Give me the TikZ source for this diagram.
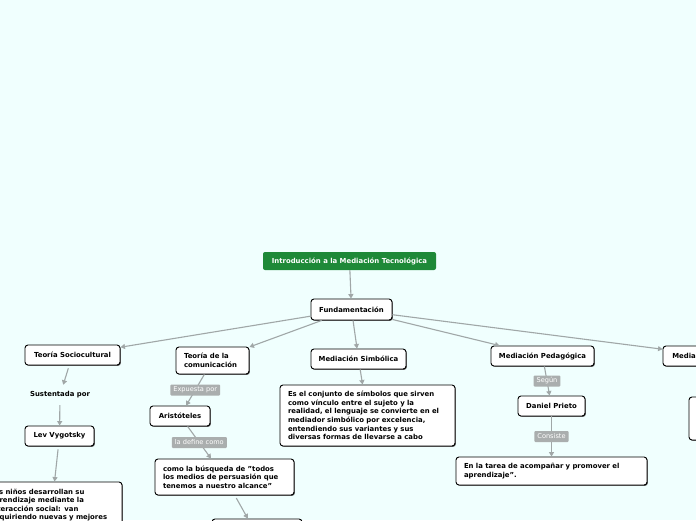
\documentclass[tikz,border=0pt]{standalone}
\usepackage{fontspec}
\setmainfont{DejaVu Sans}
\usetikzlibrary{arrows.meta,shadows}
\definecolor{bg}{RGB}{240,255,254}
\definecolor{titlegreen}{RGB}{30,137,56}
\definecolor{conn}{RGB}{160,167,167}
\definecolor{lblgray}{RGB}{170,174,174}
\tikzset{
  box/.style={draw=black, line width=0.9pt, fill=white, rounded corners=3pt,
    font=\fontsize{6.9}{8.6}\selectfont\bfseries, inner sep=0pt,
    drop shadow={shadow xshift=0.9pt, shadow yshift=-0.9pt, fill=black!65, opacity=1}},
  multibox/.style={box, align=left, inner xsep=8pt},
  titlebox/.style={fill=titlegreen, rounded corners=2pt, text=white,
    font=\fontsize{6.9}{8.6}\selectfont\bfseries, inner sep=0pt},
  plain/.style={font=\fontsize{6.9}{8.6}\selectfont\bfseries, inner sep=0pt, minimum height=20pt},
  lbl/.style={fill=lblgray, text=white, rounded corners=1pt,
    font=\fontsize{6.6}{7}\selectfont, inner xsep=3pt, inner ysep=0pt, minimum height=11pt},
  conn/.style={draw=conn, line width=1.1pt, -{Triangle[width=5pt,length=4.5pt]}},
}
\begin{document}
\begin{tikzpicture}[x=1pt,y=-1pt]
\useasboundingbox (0,0) rectangle (696,520);
\fill[bg] (0,0) rectangle (696,520);
\clip (0,0) rectangle (696,520);

\node[titlebox, minimum width=173pt, minimum height=18pt] (title) at (349.5,261) {Introducción a la Mediación Tecnológica};
\node[box, minimum width=81pt, minimum height=21pt] (fund) at (351.5,309.5) {Fundamentación};

\node[box, minimum width=95pt, minimum height=20pt] (tsc) at (72.5,355) {Teoría Sociocultural};
\node[multibox, text width=57pt, minimum height=27pt] (tcom) at (212.5,360.5) {Teoría de la\\comunicación};
\node[box, minimum width=95pt, minimum height=20pt] (msim) at (358.5,359) {Mediación Simbólica};
\node[box, minimum width=103pt, minimum height=20pt] (mped) at (542.5,356) {Mediación Pedagógica};
\node[box, minimum width=106pt, minimum height=20pt] (mtec) at (716,356) {Mediación Tecnológica};

\node[plain] (sust) at (60,395) {Sustentada por};
\node[box, minimum width=69pt, minimum height=20pt] (lev) at (59.5,436) {Lev Vygotsky};
\node[multibox, text width=124pt, minimum height=46pt] (lnin) at (52,505) {Los niños desarrollan su\\aprendizaje mediante la\\interacción social: van\\adquiriendo nuevas y mejores};

\node[box, minimum width=60pt, minimum height=20pt] (aris) at (180,416) {Aristóteles};
\node[multibox, text width=123pt, minimum height=36pt] (como) at (224.5,477) {como la búsqueda de "todos\\los medios de persuasión que\\tenemos a nuestro alcance"};
\node[box, minimum width=90pt, minimum height=32pt] (next) at (257,535) {};

\node[multibox, text width=159pt, minimum height=61pt] (simtext) at (367.5,415.5) {Es el conjunto de símbolos que sirven\\como vínculo entre el sujeto y la\\realidad, el lenguaje se convierte en el\\mediador simbólico por excelencia,\\entendiendo sus variantes y sus\\diversas formas de llevarse a cabo};

\node[box, minimum width=67pt, minimum height=20pt] (prieto) at (551.5,406) {Daniel Prieto};
\node[multibox, text width=175pt, minimum height=28pt] (tarea) at (551.5,471) {En la tarea de acompañar y promover el\\aprendizaje”.};

\node[box, minimum width=101pt, minimum height=43pt] (right) at (739.5,418.5) {};

\draw[conn] (title) -- (fund);
\draw[conn] (fund) -- (tsc);
\draw[conn] (fund) -- (tcom);
\draw[conn] (fund) -- (msim);
\draw[conn] (fund) -- (mped);
\draw[conn] (fund) -- (mtec);

\draw[conn, shorten <=3pt] (tsc) -- (sust);
\draw[conn] (sust) -- (lev);
\draw[conn, shorten <=3pt] (lev) -- (lnin);

\draw[conn] (tcom) -- node[lbl] {Expuesta por} (aris);
\draw[conn] (aris) -- node[lbl] {la define como} (como);
\draw[conn, shorten <=3pt] (como) -- (next);

\draw[conn] (msim) -- (simtext);

\draw[conn] (mped) -- node[lbl] {Según} (prieto);
\draw[conn] (prieto) -- node[lbl] {Consiste} (tarea);
\end{tikzpicture}
\end{document}
